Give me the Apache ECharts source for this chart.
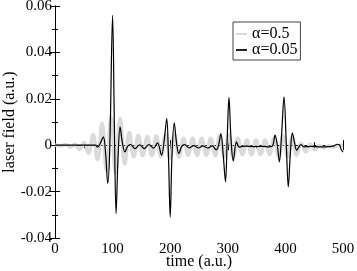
<!DOCTYPE html>
<html><head><meta charset="utf-8">
<script src="https://cdn.jsdelivr.net/npm/echarts@6/dist/echarts.min.js"></script>
<style>html,body{margin:0;padding:0;background:#fff}#c{width:357px;height:271px}</style>
</head><body><div id="c"></div>
<script>
const xTicks = [0, 100, 200, 300, 400, 500];
const yTicks = [-0.04, -0.02, 0, 0.02, 0.04, 0.06];
const seriesNames = ['α=0.5', 'α=0.05'];

const grayT = [0, 3, 10.9, 18.7, 26.6, 34.4, 42.3, 50.2, 58, 65.9, 73.7, 81.6, 89.4, 97.3, 105.1, 113, 121, 128.9, 136.7, 144.6,
  152.4, 160.3, 168.2, 176, 183.9, 191.7, 199.6, 207.5, 215.3, 223.2, 231, 238.9, 246.8, 254.6, 262.5, 270.3, 278.2, 286, 293.9,
  301.8, 309.6, 317.5, 325.4, 333.2, 341.1, 348.9, 356.8, 364.6, 372.5, 380.4, 388.2, 396.1, 403.9, 411.8, 419.6, 427.5, 435.4,
  443.2, 451.1, 458.9, 466.8, 474.6, 482.5, 490.4, 500];
const grayV = [0, 0, -0.0002, 0.0003, -0.0008, 0.0004, -0.0018, 0.0012, -0.0035, 0.0045, -0.0062, 0.0095, -0.011, 0.012, -0.012, 0.0115, -0.008, 0.0055, -0.005, 0.0042,
  -0.0045, 0.0038, -0.0045, 0.004, -0.005, 0.0045, -0.0055, 0.0045, -0.005, 0.003, -0.0044, 0.003, -0.0044, 0.003, -0.0044, 0.003, -0.0046, 0.004, -0.005,
  0.0045, -0.005, 0.003, -0.004, 0.0022, -0.004, 0.0022, -0.004, 0.0022, -0.004, 0.003, -0.0048, 0.004, -0.005, 0.0035, -0.0043, 0.0008, -0.0028,
  0.0004, -0.002, 0.0, -0.0012, -0.0002, -0.0008, -0.0003, 0];

const blackT = [0, 70, 74, 79, 84, 88, 91.5, 95, 100, 103, 106, 109.5, 113, 117, 121.5, 126, 131, 139, 147, 155, 163, 171, 178, 185,
  190, 194, 197, 200, 203, 207, 211, 215, 220, 225, 233, 241, 249, 257, 265, 273, 280, 284, 288, 292, 296, 299, 302, 305.5, 309.5,
  315, 320, 330, 345, 360, 372, 378, 382, 386, 389.5, 393.5, 397.6, 401.5, 405, 408.5, 412, 416, 419.6, 424, 427, 432, 445, 460,
  475, 483, 490, 494, 497, 500];
const blackV = [0, 0, -0.0008, 0.001, 0.0036, -0.004, -0.0165, -0.002, 0.056, 0.01, -0.0295, -0.005, 0.0079, 0.001, -0.0029, -0.0005, 0.0003, -0.0015, 0.0002, -0.0015, 0.0003, -0.0013, 0.001, -0.0043,
  0.003, 0.0115, -0.005, -0.031, -0.005, 0.0096, 0.001, -0.0036, -0.0005, 0.0003, -0.0012, -0.0002, -0.0012, -0.0003, -0.0012, -0.0003, -0.002, 0.0, 0.005, -0.004, -0.0158, 0.003, 0.0206, 0.003, -0.0068,
  0.0014, -0.0008, -0.0004, -0.0006, -0.0005, -0.0007, -0.0002, 0.0043, 0.0, -0.0072, 0.005, 0.0208, 0.001, -0.018, -0.004, 0.0053, 0.001, -0.0022, -0.0005, 0.0003, -0.0007, -0.0005, -0.0007,
  -0.0006, -0.0004, 0.0004, 0.0001, -0.002, -0.003];

const FONT = 'Liberation Serif';
const zip = (a, b) => a.map((t, i) => [t, b[i]]);

const axisCommon = {
  axisLine: { show: true, lineStyle: { color: '#000', width: 1 } },
  axisTick: { show: true, inside: true, length: 5, lineStyle: { color: '#000' } },
  minorTick: { show: true, splitNumber: 2, length: 3, lineStyle: { color: '#000' } },
  splitLine: { show: false },
  minorSplitLine: { show: false }
};

const chart = echarts.init(document.getElementById('c'), null, { renderer: 'canvas' });
chart.setOption({
  animation: false,
  backgroundColor: '#fff',
  grid: { left: 55, right: 14, top: 6, bottom: 33, containLabel: false, outerBoundsMode: 'none' },
  legend: {
    left: 233, top: 22, orient: 'vertical', itemGap: 0, itemWidth: 11, itemHeight: 2,
    padding: [4, 3, 2, 3], borderColor: '#444', borderWidth: 1, backgroundColor: '#fff',
    textStyle: { fontFamily: FONT, fontSize: 16, color: '#000', lineHeight: 12 },
    data: [
      { name: seriesNames[0], icon: 'rect', itemStyle: { color: '#dadada' } },
      { name: seriesNames[1], icon: 'rect', itemStyle: { color: '#222' } }
    ]
  },
  xAxis: [
    Object.assign({}, axisCommon, {
      type: 'value', min: xTicks[0], max: xTicks[xTicks.length - 1], interval: 100, position: 'bottom',
      name: 'time (a.u.)', nameLocation: 'middle', nameGap: 16, nameMoveOverlap: false,
      nameTextStyle: { fontFamily: FONT, fontSize: 16, color: '#000' },
      axisLabel: { show: true, margin: 4, fontFamily: FONT, fontSize: 15, color: '#000' }
    }),
    Object.assign({}, axisCommon, {
      type: 'value', min: xTicks[0], max: xTicks[xTicks.length - 1], interval: 100, position: 'top',
      axisLabel: { show: false }
    })
  ],
  yAxis: [
    Object.assign({}, axisCommon, {
      type: 'value', min: yTicks[0], max: yTicks[yTicks.length - 1], interval: 0.02, position: 'left',
      name: 'laser field (a.u.)', nameLocation: 'middle', nameGap: 37, nameMoveOverlap: false,
      nameTextStyle: { fontFamily: FONT, fontSize: 16, color: '#000' },
      axisLabel: { show: true, margin: 3, fontFamily: FONT, fontSize: 15, color: '#000',
        formatter: v => String(Math.round(v * 100) / 100) }
    }),
    Object.assign({}, axisCommon, {
      type: 'value', min: yTicks[0], max: yTicks[yTicks.length - 1], interval: 0.02, position: 'right',
      axisLabel: { show: false }
    })
  ],
  series: [
    { name: seriesNames[0], type: 'line', xAxisIndex: 0, yAxisIndex: 0, data: zip(grayT, grayV),
      showSymbol: false, symbol: 'none', smooth: 0.5, lineStyle: { color: '#dadada', width: 3.5 }, itemStyle: { color: '#dadada' } },
    { name: seriesNames[1], type: 'line', xAxisIndex: 0, yAxisIndex: 0, data: zip(blackT, blackV),
      showSymbol: false, symbol: 'none', smooth: 0.35, lineStyle: { color: '#000', width: 1.2 }, itemStyle: { color: '#000' } }
  ]
});
</script></body></html>
